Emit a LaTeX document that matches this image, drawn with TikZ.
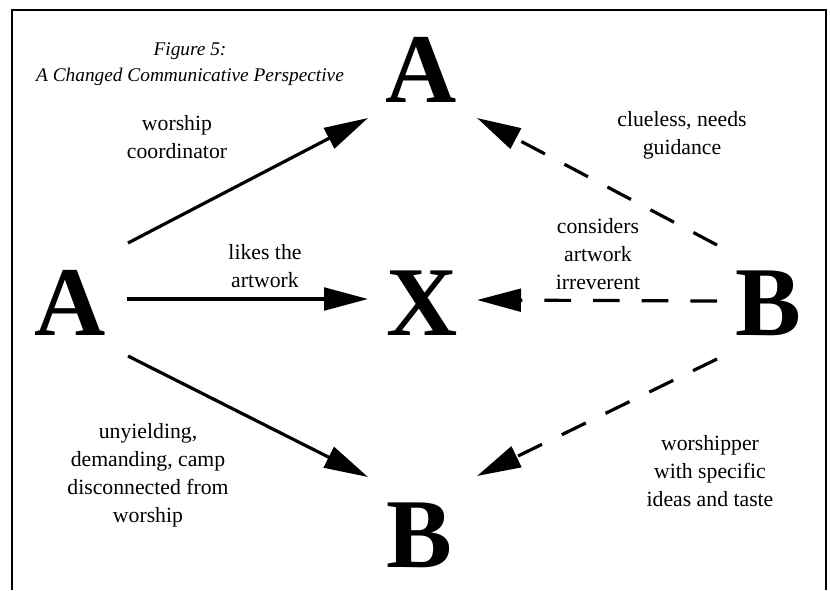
\documentclass[tikz,border=0pt]{standalone}
\usepackage{fontspec}
\setmainfont{Liberation Serif}
\usetikzlibrary{arrows.meta}

\begin{document}
\begin{tikzpicture}[
  x=0.75pt, y=-0.75pt,
  letter/.style={anchor=base,inner sep=0pt,font=\fontsize{74}{74}\selectfont\bfseries},
  lbl/.style={align=center,inner sep=0pt,font=\fontsize{16.3}{21}\selectfont},
  ttl/.style={align=center,inner sep=0pt,font=\fontsize{14.5}{19.5}\selectfont\itshape},
  arr/.style={-{Triangle[length=33pt,width=17pt]},line width=2.4pt},
  darr/.style={arr,dash pattern=on 20pt off 16.5pt}
]
\useasboundingbox (0,0) rectangle (830,590);
\draw[line width=1.8pt] (12,590) -- (12,10) -- (826,10) -- (826,590);
\node[ttl] (title) at (190,64) {Figure 5:\\A Changed Communicative Perspective};
\node[letter] (aT) at (421,102) {A};
\node[letter] (aL) at (70,335) {A};
\node[letter] (x) at (422,335) {X};
\node[letter] (bR) at (768,335) {B};
\node[letter] (bB) at (419,567) {B};
\node[lbl] (coord) at (177,137) {worship\\coordinator};
\node[lbl] (clue) at (682,135) {clueless, needs\\guidance};
\node[lbl] (likes) at (265,266) {likes the\\artwork};
\node[lbl] (irrev) at (598,254) {considers\\artwork\\irreverent};
\node[lbl] (camp) at (148,475) {unyielding,\\demanding, camp\\disconnected from\\worship};
\node[lbl] (taste) at (710,471) {worshipper\\with specific\\ideas and taste};
\draw[arr] ([shift={(58,-92)}]aL.base) -- ([shift={(-53,16)}]aT.base);
\draw[arr] ([shift={(57,-36)}]aL.base) -- ([shift={(-54,-36)}]x.base);
\draw[arr] ([shift={(58,21)}]aL.base) -- ([shift={(-51,-90)}]bB.base);
\draw[darr] ([shift={(-51,-90)}]bR.base) -- ([shift={(56,16)}]aT.base);
\draw[darr] ([shift={(-51,-34)}]bR.base) -- ([shift={(55,-35)}]x.base);
\draw[darr] ([shift={(-51,24)}]bR.base) -- ([shift={(58,-91)}]bB.base);
\end{tikzpicture}
\end{document}
